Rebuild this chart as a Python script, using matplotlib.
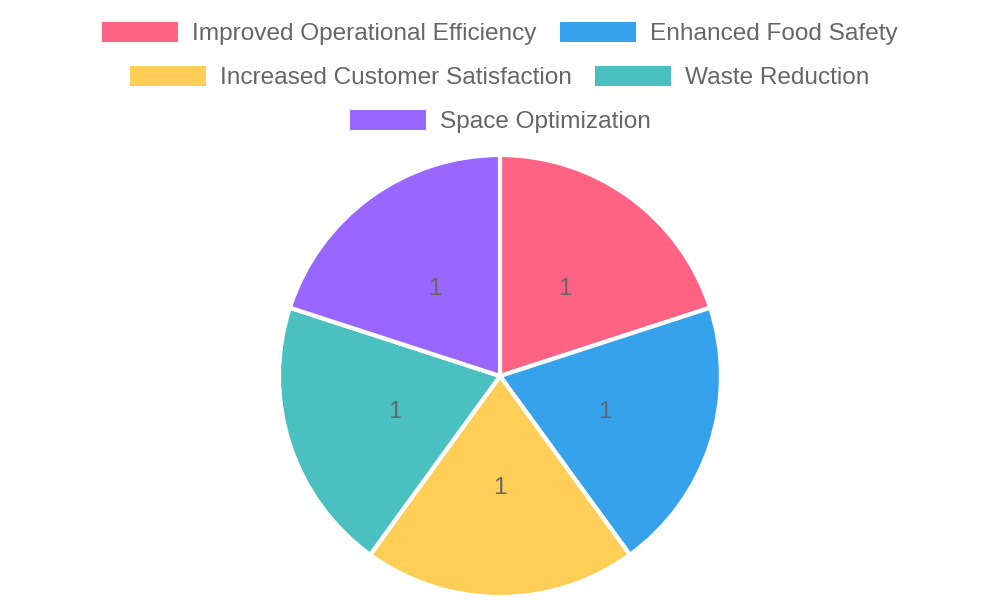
import math

import matplotlib.pyplot as plt
from matplotlib.patches import Rectangle

labels = ['Improved Operational Efficiency', 'Enhanced Food Safety',
          'Increased Customer Satisfaction', 'Waste Reduction', 'Space Optimization']
values = [1, 1, 1, 1, 1]
colors = ['#FF6384', '#36A2EB', '#FFCE56', '#4BC0C0', '#9966FF']
legend_rows = [[0, 1], [2, 3], [4]]

plt.rcParams['font.family'] = ['Liberation Sans', 'DejaVu Sans']
TEXT = '#666666'
FS = 17.6  # ~24px at dpi 100

fig = plt.figure(figsize=(10, 6), dpi=100)
ax = fig.add_axes([0, 0, 1, 1])

# pie (pixel coords, y measured from the bottom)
cx, cy, R = 500, 600 - 376, 221
ax.pie(values, colors=colors, startangle=90, counterclock=False,
       center=(cx, cy), radius=R, frame=True,
       wedgeprops=dict(edgecolor='white', linewidth=3))
ax.set_xlim(0, 1000)
ax.set_ylim(0, 600)
ax.set_aspect('equal')
ax.axis('off')

total = sum(values)
start = 90.0
for v in values:
    span = 360.0 * v / total
    mid = math.radians(start - span / 2)
    ax.text(cx + 0.5 * R * math.cos(mid), cy + 0.5 * R * math.sin(mid) - 2, str(v),
            ha='center', va='center', fontsize=FS, color=TEXT)
    start -= span

# legend, centred rows like Chart.js
fig.canvas.draw()
renderer = fig.canvas.get_renderer()
BOX_W, BOX_H, PAD, GAP = 76, 20, 14, 23
row_y = [32, 76, 120]
for row, y in zip(legend_rows, row_y):
    widths = []
    for i in row:
        t = ax.text(0, 0, labels[i], fontsize=FS)
        widths.append(t.get_window_extent(renderer).width)
        t.remove()
    total_w = sum(BOX_W + PAD + w for w in widths) + GAP * (len(row) - 1)
    x = 500 - total_w / 2
    for i, w in zip(row, widths):
        ax.add_patch(Rectangle((x, 600 - y - BOX_H / 2), BOX_W, BOX_H,
                               facecolor=colors[i], edgecolor='none'))
        ax.text(x + BOX_W + PAD, 600 - y - 2, labels[i], fontsize=FS, color=TEXT,
                ha='left', va='center')
        x += BOX_W + PAD + w + GAP

fig.savefig('out.png', dpi=100, facecolor='white')
